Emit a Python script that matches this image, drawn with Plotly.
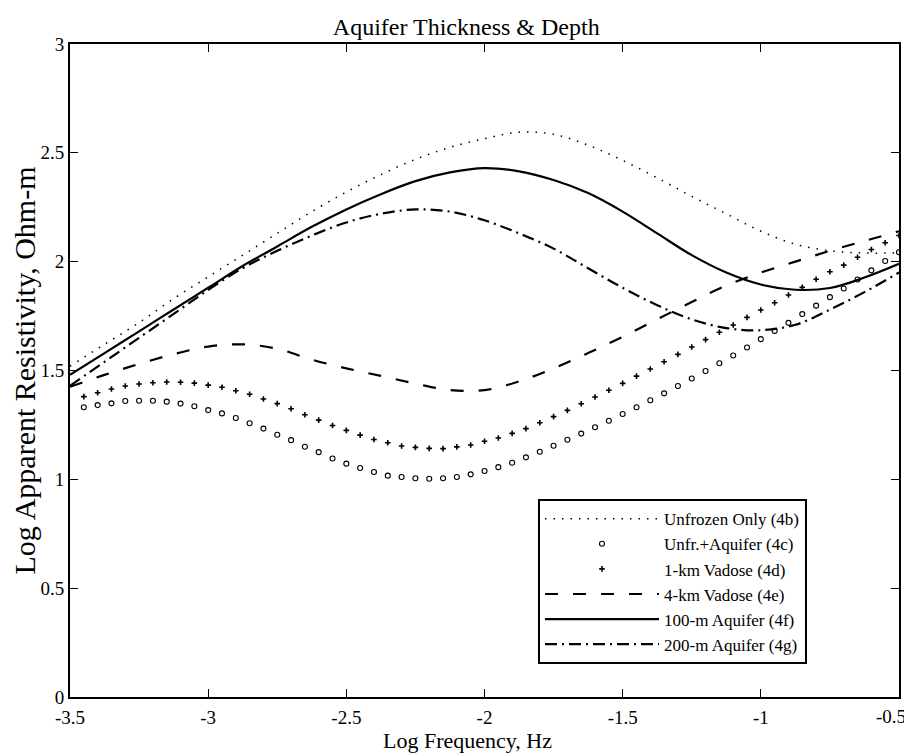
import plotly.graph_objects as go

# sample positions for the smooth curves (log frequency, Hz)
x_line = [-3.5, -3.375, -3.25, -3.125, -3.0, -2.875, -2.75, -2.625, -2.5,
          -2.375, -2.25, -2.125, -2.0, -1.875, -1.75, -1.625, -1.5, -1.375,
          -1.25, -1.125, -1.0, -0.875, -0.75, -0.625, -0.5]

unfrozen_only = [1.52, 1.62, 1.72, 1.83, 1.93, 2.03, 2.13, 2.23, 2.32,
                 2.40, 2.47, 2.525, 2.565, 2.595, 2.585, 2.535, 2.465, 2.385,
                 2.30, 2.22, 2.14, 2.08, 2.05, 2.04, 2.04]
vadose_4km = [1.425, 1.48, 1.53, 1.575, 1.61, 1.62, 1.60, 1.55, 1.51,
              1.475, 1.44, 1.41, 1.41, 1.45, 1.51, 1.58, 1.655, 1.735,
              1.815, 1.89, 1.95, 2.00, 2.05, 2.095, 2.14]
aquifer_100m = [1.48, 1.58, 1.68, 1.78, 1.88, 1.98, 2.07, 2.16, 2.24,
                2.31, 2.37, 2.41, 2.43, 2.415, 2.375, 2.315, 2.23, 2.13,
                2.03, 1.95, 1.895, 1.871, 1.879, 1.927, 1.99]
aquifer_200m = [1.43, 1.54, 1.65, 1.76, 1.87, 1.97, 2.05, 2.12, 2.18,
                2.22, 2.24, 2.23, 2.19, 2.13, 2.06, 1.97, 1.88, 1.80,
                1.735, 1.695, 1.685, 1.71, 1.78, 1.86, 1.95]

# marker series (one point every 0.05 in log frequency)
x_mark = [-3.45, -3.40, -3.35, -3.30, -3.25, -3.20, -3.15, -3.10, -3.05, -3.00,
          -2.95, -2.90, -2.85, -2.80, -2.75, -2.70, -2.65, -2.60, -2.55, -2.50,
          -2.45, -2.40, -2.35, -2.30, -2.25, -2.20, -2.15, -2.10, -2.05, -2.00,
          -1.95, -1.90, -1.85, -1.80, -1.75, -1.70, -1.65, -1.60, -1.55, -1.50,
          -1.45, -1.40, -1.35, -1.30, -1.25, -1.20, -1.15, -1.10, -1.05, -1.00,
          -0.95, -0.90, -0.85, -0.80, -0.75, -0.70, -0.65, -0.60, -0.55, -0.50]

unfr_aquifer = [1.331, 1.341, 1.349, 1.360, 1.361, 1.361, 1.357, 1.348, 1.336, 1.318,
                1.303, 1.282, 1.258, 1.233, 1.205, 1.180, 1.150, 1.125, 1.096, 1.072,
                1.052, 1.034, 1.017, 1.011, 1.005, 1.003, 1.005, 1.011, 1.023, 1.038,
                1.056, 1.076, 1.101, 1.127, 1.154, 1.182, 1.210, 1.239, 1.269, 1.300,
                1.331, 1.363, 1.395, 1.429, 1.463, 1.498, 1.533, 1.569, 1.606, 1.644,
                1.682, 1.719, 1.759, 1.798, 1.837, 1.877, 1.918, 1.960, 2.003, 2.043]
vadose_1km = [1.380, 1.398, 1.415, 1.429, 1.438, 1.444, 1.447, 1.446, 1.442, 1.433,
              1.423, 1.407, 1.391, 1.369, 1.348, 1.324, 1.297, 1.272, 1.247, 1.225,
              1.203, 1.183, 1.168, 1.153, 1.147, 1.142, 1.141, 1.149, 1.158, 1.175,
              1.190, 1.211, 1.233, 1.260, 1.288, 1.317, 1.347, 1.378, 1.409, 1.441,
              1.474, 1.507, 1.540, 1.574, 1.608, 1.642, 1.676, 1.709, 1.744, 1.778,
              1.811, 1.847, 1.882, 1.919, 1.954, 1.984, 2.020, 2.056, 2.087, 2.120]

x_ticks = [-3.5, -3, -2.5, -2, -1.5, -1, -0.5]
x_ticklabels = ["-3.5", "-3", "-2.5", "-2", "-1.5", "-1", "-0.5"]
y_ticks = [0, 0.5, 1, 1.5, 2, 2.5, 3]
y_ticklabels = ["0", "0.5", "1", "1.5", "2", "2.5", "3"]

FONT = "Liberation Serif, Times New Roman, serif"

fig = go.Figure()
fig.add_trace(go.Scatter(
    x=x_line, y=unfrozen_only, name="Unfrozen Only (4b)", mode="lines",
    line={"color": "black", "width": 1.5, "dash": "1.5px,7px", "shape": "spline"},
))
fig.add_trace(go.Scatter(
    x=x_mark, y=unfr_aquifer, name="Unfr.+Aquifer (4c)", mode="markers",
    marker={"symbol": "circle-open", "size": 5, "color": "black",
            "line": {"width": 1.1, "color": "black"}},
))
fig.add_trace(go.Scatter(
    x=x_mark, y=vadose_1km, name="1-km Vadose (4d)", mode="markers",
    marker={"symbol": "cross-thin", "size": 4, "color": "black",
            "line": {"width": 1.6, "color": "black"}},
))
fig.add_trace(go.Scatter(
    x=x_line, y=vadose_4km, name="4-km Vadose (4e)", mode="lines",
    line={"color": "black", "width": 2.2, "dash": "13px,15px", "shape": "spline"},
))
fig.add_trace(go.Scatter(
    x=x_line, y=aquifer_100m, name="100-m Aquifer (4f)", mode="lines",
    line={"color": "black", "width": 2.2, "shape": "spline"},
))
fig.add_trace(go.Scatter(
    x=x_line, y=aquifer_200m, name="200-m Aquifer (4g)", mode="lines",
    line={"color": "black", "width": 2.2, "dash": "12px,5px,2px,5px", "shape": "spline"},
))

axis_common = dict(
    showline=True, linewidth=2, linecolor="black", mirror="allticks",
    ticks="inside", ticklen=8, tickwidth=1, tickcolor="black",
    showgrid=False, zeroline=False, automargin=False,
)
tick_font = {"family": FONT, "size": 19, "color": "black"}

# the last x label sits against the page edge, so it is drawn as its own
# annotation nudged slightly left instead of a centred tick label
fig.update_xaxes(
    range=[-3.5, -0.5], tickvals=x_ticks,
    ticktext=x_ticklabels[:-1] + [""],
    ticklabelstandoff=2, tickfont=tick_font,
    **axis_common,
)
fig.add_annotation(
    text=x_ticklabels[-1], x=x_ticks[-1], xref="x", y=-0.0305, yref="paper",
    xanchor="center", yanchor="middle", xshift=-8, showarrow=False,
    font=tick_font,
)
fig.update_yaxes(
    range=[0, 3], tickvals=y_ticks, ticktext=y_ticklabels, tickfont=tick_font,
    title={"text": "Log Apparent Resistivity, Ohm-m",
           "font": {"family": FONT, "size": 30, "color": "black"}, "standoff": 3},
    **axis_common,
)
fig.add_annotation(
    text="Log Frequency, Hz", xref="paper", yref="paper", x=0.48, y=-0.067,
    xanchor="center", yanchor="middle", showarrow=False,
    font={"family": FONT, "size": 22, "color": "black"},
)
# the page adds an 8 px body margin, so the figure is 8 px smaller each way
fig.update_layout(
    width=904, height=747, autosize=False,
    margin={"l": 62, "r": 13, "t": 36, "b": 58, "autoexpand": False},
    paper_bgcolor="white", plot_bgcolor="white",
    title={"text": "Aquifer Thickness & Depth", "x": 0.478, "xref": "paper",
           "xanchor": "center", "y": 0.9746, "yanchor": "middle",
           "font": {"family": FONT, "size": 24, "color": "black"}},
    legend={"x": 0.5645, "y": 0.303, "xanchor": "left", "yanchor": "top",
            "bgcolor": "white", "bordercolor": "black", "borderwidth": 2,
            "font": {"family": FONT, "size": 17, "color": "black"},
            "itemwidth": 114, "tracegroupgap": 0},
    showlegend=True,
)

fig.write_html("out.html")
